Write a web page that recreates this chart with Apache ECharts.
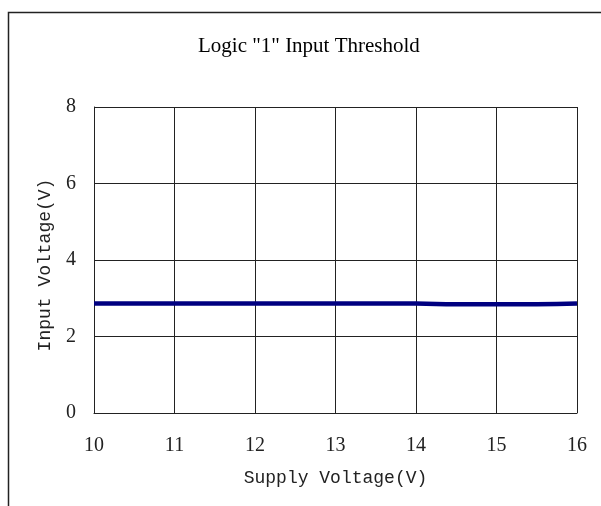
<!DOCTYPE html>
<html>
<head>
<meta charset="utf-8">
<script src="https://cdn.jsdelivr.net/npm/echarts@6/dist/echarts.min.js"></script>
<style>
  html, body { margin: 0; padding: 0; background: #fff; }
  #chart { width: 601px; height: 506px; }
</style>
</head>
<body>
<div id="chart"></div>
<script>
// supply voltage (V) and measured logic "1" threshold (V)
const supplyVoltage = [10, 11, 12, 13, 14, 14.5, 15, 15.5, 16];
const inputThreshold = [2.86, 2.86, 2.86, 2.86, 2.86, 2.84, 2.84, 2.84, 2.86];

const chart = echarts.init(document.getElementById("chart"));

const option = {
  animation: false,
  backgroundColor: "#fff",
  title: {
    text: 'Logic "1" Input Threshold',
    left: 193,
    top: 31,
    textStyle: {
      fontFamily: "Liberation Serif",
      fontSize: 21,
      fontWeight: "normal",
      color: "#000",
    },
  },
  graphic: [
    {
      type: "rect",
      shape: { x: 8.5, y: 12.5, width: 620, height: 520 },
      style: { fill: "none", stroke: "#222", lineWidth: 1.5 },
      silent: true,
    },
  ],
  grid: { left: 94, top: 107, right: 24, bottom: 93 },
  xAxis: {
    type: "value",
    min: 10,
    max: 16,
    interval: 1,
    name: "Supply Voltage(V)",
    nameLocation: "middle",
    nameGap: 56,
    nameTextStyle: { fontFamily: "Liberation Mono", fontSize: 18, color: "#222" },
    axisLine: { show: true, lineStyle: { color: "#222", width: 1 } },
    axisTick: { show: false },
    axisLabel: {
      margin: 23,
      fontFamily: "Liberation Serif",
      fontSize: 20,
      color: "#222",
    },
    splitLine: { show: true, lineStyle: { color: "#222", width: 1 } },
  },
  yAxis: {
    type: "value",
    min: 0,
    max: 8,
    interval: 2,
    name: "Input Voltage(V)",
    nameLocation: "middle",
    nameGap: 40,
    nameTextStyle: {
      fontFamily: "Liberation Mono",
      fontSize: 18,
      color: "#222",
      padding: [0, 10, 0, 0],
    },
    axisLine: { show: true, lineStyle: { color: "#222", width: 1 } },
    axisTick: { show: false },
    axisLabel: {
      margin: 18,
      fontFamily: "Liberation Serif",
      fontSize: 20,
      color: "#222",
    },
    splitLine: { show: true, lineStyle: { color: "#222", width: 1 } },
  },
  series: [
    {
      type: "line",
      data: supplyVoltage.map((v, i) => [v, inputThreshold[i]]),
      showSymbol: false,
      smooth: true,
      lineStyle: { color: "#000080", width: 4.5 },
    },
  ],
};

chart.setOption(option);
</script>
</body>
</html>
